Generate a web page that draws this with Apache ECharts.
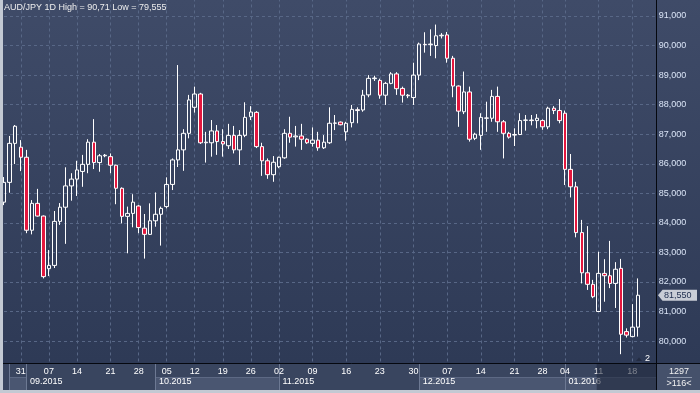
<!DOCTYPE html>
<html><head><meta charset="utf-8">
<script src="https://cdn.jsdelivr.net/npm/echarts@6/dist/echarts.min.js"></script>
<style>html,body{margin:0;padding:0;background:#2f3b56;overflow:hidden}#c{width:700px;height:393px}</style>
</head><body><div id="c"></div>
<script>
// ---------------- data ----------------
const titleText = 'AUD/JPY 1D High = 90,71 Low = 79,555';
const dates = ['2015-08-26','2015-08-27','2015-08-28','2015-08-31','2015-09-01','2015-09-02','2015-09-03','2015-09-04','2015-09-07','2015-09-08','2015-09-09','2015-09-10','2015-09-11','2015-09-14','2015-09-15','2015-09-16','2015-09-17','2015-09-18','2015-09-20','2015-09-21','2015-09-22','2015-09-23','2015-09-24','2015-09-25','2015-09-28','2015-09-29','2015-09-30','2015-10-01','2015-10-02','2015-10-05','2015-10-06','2015-10-07','2015-10-08','2015-10-09','2015-10-12','2015-10-13','2015-10-14','2015-10-15','2015-10-16','2015-10-19','2015-10-20','2015-10-21','2015-10-22','2015-10-23','2015-10-26','2015-10-27','2015-10-28','2015-10-29','2015-10-30','2015-11-02','2015-11-03','2015-11-04','2015-11-05','2015-11-06','2015-11-08','2015-11-09','2015-11-10','2015-11-11','2015-11-12','2015-11-13','2015-11-15','2015-11-16','2015-11-17','2015-11-18','2015-11-19','2015-11-20','2015-11-22','2015-11-23','2015-11-24','2015-11-25','2015-11-26','2015-11-27','2015-11-29','2015-11-30','2015-12-01','2015-12-02','2015-12-03','2015-12-04','2015-12-06','2015-12-07','2015-12-08','2015-12-09','2015-12-10','2015-12-11','2015-12-13','2015-12-14','2015-12-15','2015-12-16','2015-12-17','2015-12-18','2015-12-20','2015-12-21','2015-12-22','2015-12-23','2015-12-24','2015-12-27','2015-12-28','2015-12-29','2015-12-30','2015-12-31','2016-01-04','2016-01-05','2016-01-06','2016-01-07','2016-01-08','2016-01-10','2016-01-11','2016-01-12','2016-01-13','2016-01-14','2016-01-15','2016-01-17','2016-01-18','2016-01-19'];
const opens = [84.70,85.37,86.69,86.56,86.22,83.75,84.66,84.23,82.45,82.56,
84.05,84.53,85.25,85.48,85.74,85.98,86.73,86.04,86.27,86.24,
85.95,85.17,84.22,84.32,84.57,83.82,83.61,84.07,84.29,84.55,
85.30,86.13,86.47,87.03,87.91,88.36,86.71,86.71,87.11,86.75,
86.61,86.96,86.47,86.96,87.59,87.74,86.58,86.10,85.63,85.90,
86.20,87.03,86.91,86.94,86.83,86.69,86.80,86.54,86.71,87.37,
87.41,87.08,87.39,87.83,87.82,88.33,88.88,88.82,88.32,88.72,
89.04,88.55,88.32,88.24,89.00,90.04,90.03,90.00,90.33,90.36,
89.57,88.63,87.76,88.43,86.86,86.96,87.54,87.54,88.28,87.42,
87.03,86.97,86.99,87.47,87.48,87.46,87.46,87.25,87.88,87.80,
87.71,85.81,85.22,83.67,82.31,81.92,81.00,82.29,82.21,81.95,
82.46,80.32,80.15,80.47];
const closes = [85.37,86.69,87.27,86.22,83.75,84.66,84.23,82.18,82.56,84.05,
84.53,85.25,85.48,85.79,85.98,86.73,86.04,86.27,86.29,85.95,
85.17,84.22,84.32,84.70,83.84,83.61,84.07,84.29,84.49,85.30,
86.13,86.47,87.03,88.16,88.36,86.71,86.73,87.11,86.75,86.67,
86.96,86.47,86.96,87.57,87.75,86.58,86.10,85.63,86.05,86.22,
87.03,86.90,86.94,86.83,86.71,86.80,86.54,86.73,87.37,87.38,
87.32,87.37,87.84,87.80,88.32,88.89,88.90,88.32,88.72,89.04,
88.54,88.32,88.30,89.00,90.05,90.03,90.05,90.33,90.35,89.57,
88.63,87.78,88.43,86.83,87.00,87.57,87.55,88.28,87.42,87.03,
86.90,86.99,87.46,87.48,87.46,87.54,87.25,87.88,87.80,87.46,
85.81,85.22,83.67,82.31,81.92,81.50,82.29,82.21,81.95,82.43,
80.23,80.20,80.47,81.55];
const lows = [84.60,85.02,85.99,85.75,83.65,83.61,84.21,82.12,82.20,82.47,
83.93,83.29,84.75,84.91,85.22,85.68,85.82,85.73,86.22,85.68,
84.63,83.98,82.97,83.85,83.65,82.79,83.59,83.87,83.23,84.49,
85.11,85.89,85.76,86.86,87.73,86.67,86.04,86.24,86.30,86.24,
86.50,86.35,85.96,86.90,87.48,86.53,85.59,85.49,85.39,85.85,
86.17,86.71,86.58,86.47,86.67,86.58,86.44,86.50,86.67,87.14,
87.30,86.78,87.23,87.37,87.76,88.25,88.80,88.20,87.99,88.69,
88.33,88.07,88.22,87.99,88.83,89.76,89.65,89.57,90.24,89.42,
88.25,87.25,87.68,86.75,86.80,86.47,87.08,87.42,87.08,86.18,
86.85,86.60,86.97,87.12,87.30,87.20,87.15,87.17,87.68,87.37,
85.28,84.86,83.51,81.95,81.73,81.45,81.00,81.33,81.79,81.12,
79.555,80.12,80.13,80.15];
const highs = [85.55,86.94,87.31,86.80,86.47,84.77,85.15,84.25,83.08,84.40,
84.67,85.88,85.68,86.10,86.30,86.83,87.51,86.33,86.33,86.35,
85.97,85.20,84.55,84.97,84.60,84.30,84.66,85.03,84.55,85.54,
86.18,89.34,87.17,88.33,88.61,88.40,87.08,87.48,87.31,87.17,
87.35,87.28,87.14,88.08,87.95,87.78,86.71,86.18,86.26,86.24,
87.17,87.59,87.28,87.35,86.86,87.23,87.08,86.97,87.91,87.65,
87.43,87.42,87.99,87.91,88.50,89.00,88.98,88.88,88.77,89.10,
89.10,88.61,88.36,89.42,90.10,90.45,90.55,90.71,90.42,90.46,
89.65,88.65,89.12,88.61,87.05,87.71,88.10,88.50,88.61,87.48,
87.08,87.20,87.71,87.65,87.65,87.68,87.50,87.93,87.95,88.19,
87.80,86.33,85.39,84.10,83.89,82.07,83.02,82.77,83.39,82.67,
82.78,80.43,81.25,82.12];
const tickDates = ['2015-08-31','2015-09-07','2015-09-14','2015-09-21','2015-09-28','2015-10-05','2015-10-12','2015-10-19','2015-10-26','2015-11-02','2015-11-09','2015-11-16','2015-11-23','2015-11-30','2015-12-07','2015-12-14','2015-12-21','2015-12-28','2016-01-04','2016-01-11','2016-01-18'];
const monthStarts = ['2015-08-27','2015-09-01','2015-10-01','2015-11-02','2015-12-01','2016-01-04'];
const monthLabels = ['','09.2015','10.2015','11.2015','12.2015','01.2016'];
const infoTop = '1297';
const infoBottom = '>116<';
const pageMarker = '2';

// ---------------- layout / style ----------------
const FONT = "'Liberation Sans', Arial, sans-serif";
const STEP = 5.61;
const cats = dates.concat(['p1','p2','p3']);
const plotW = (cats.length - 1) * STEP;
const monthLight = [true,false,true,false,true,true];
const fmt = v => v.toFixed(3).replace('.', ',');
const candleData = opens.map((o,i) => [o, closes[i], lows[i], highs[i]]);
const gridColor = '#586786';

const chart = echarts.init(document.getElementById('c'), null, {renderer:'canvas', width:700, height:393});
chart.setOption({
  animation: false,
  backgroundColor: {type:'linear', x:0, y:0, x2:0, y2:1, colorStops:[
    {offset:0, color:'#3f4b68'}, {offset:0.92, color:'#2e3a56'}, {offset:1, color:'#2c3752'}]},
  title: {text: titleText, left: 4, top: 3, padding: 0,
    textStyle: {color:'#eeeeee', fontSize:9, fontWeight:'normal', fontFamily:FONT}},
  grid: [
    {left:4, top:-13.55, width:plotW, height:384.15, outerBoundsMode:'none', containLabel:false},
    {left:4, top:350, width:plotW, height:14, outerBoundsMode:'none', containLabel:false},
    {left:4, top:360, width:plotW, height:15, outerBoundsMode:'none', containLabel:false}
  ],
  xAxis: [
    {type:'category', gridIndex:0, data:cats, boundaryGap:false,
     axisLine:{show:false}, axisTick:{show:false}, axisLabel:{show:false},
     splitLine:{show:true, interval:(i,v)=>tickDates.includes(v), lineStyle:{color:gridColor, type:[3,3], width:1}}},
    {type:'category', gridIndex:1, data:cats, boundaryGap:false, position:'bottom', z:10,
     axisLine:{show:false},
     axisTick:{show:true, interval:(i,v)=>monthStarts.includes(v), length:26, lineStyle:{color:'#6d7993', width:1}},
     axisLabel:{interval:(i,v)=>tickDates.includes(v), formatter:v=>v.slice(8), color:'#ffffff', fontSize:9, fontFamily:FONT, margin:3},
     splitLine:{show:false}},
    {type:'category', gridIndex:2, data:cats, boundaryGap:false, position:'bottom', z:10,
     axisLine:{show:false}, axisTick:{show:false},
     axisLabel:{interval:(i,v)=>monthStarts.includes(v), formatter:v=>monthLabels[monthStarts.indexOf(v)] || '',
       align:'left', padding:[0,0,0,3.5], color:'#ffffff', fontSize:9, fontFamily:FONT, margin:2},
     splitLine:{show:false}}
  ],
  yAxis: [
    {type:'value', gridIndex:0, position:'right', min:79, max:92, interval:1,
     axisLine:{show:false}, axisTick:{show:false},
     axisLabel:{formatter:fmt, color:'#dbe5f7', fontSize:9, fontFamily:FONT, margin:4},
     splitLine:{show:true, lineStyle:{color:gridColor, type:[3,3], width:1}}},
    {type:'value', gridIndex:1, show:false},
    {type:'value', gridIndex:2, show:false}
  ],
  series: [{
    type:'candlestick', xAxisIndex:0, yAxisIndex:0, data:candleData, barWidth:4,
    itemStyle:{color:'rgba(0,0,0,0)', color0:'#e3173e', borderColor:'#ffffff', borderColor0:'#ffffff', borderWidth:1}
  }]
});

// ---------------- decorations placed through the axes ----------------
const xAt = i => chart.convertToPixel({xAxisIndex:1}, i);
const lastClose = closes[closes.length-1];
const yTag = chart.convertToPixel({yAxisIndex:0}, lastClose);
const T = (x,y,text,fill,align,z) => ({type:'text', x:x, y:y, z:z, silent:true,
  style:{text:text, fill:fill, font:'9px ' + FONT, align:align, verticalAlign:'middle', textAlign:align, textVerticalAlign:'middle'}});
const g = [];
g.push({type:'rect', z:5, silent:true, shape:{x:3, y:364, width:654, height:26}, style:{fill:'#39455f'}});
monthStarts.forEach((d,k) => {
  if (!monthLight[k]) return;
  const x1 = xAt(dates.indexOf(d));
  const x2 = k < monthStarts.length-1 ? xAt(dates.indexOf(monthStarts[k+1])) : 656;
  g.push({type:'rect', z:6, silent:true, shape:{x:x1, y:377.5, width:x2-x1, height:12.5}, style:{fill:'#4a5671'}});
  g.push({type:'line', z:6, silent:true, shape:{x1:x1, y1:377.5, x2:x2, y2:377.5}, style:{stroke:'#5d6984', lineWidth:1}});
});
g.push({type:'rect', z:5, silent:true, shape:{x:657, y:364, width:43, height:26}, style:{fill:'#45516b'}});
g.push(T(679, 371.5, infoTop, '#f2f2f2', 'center', 31));
g.push(T(679, 384, infoBottom, '#f2f2f2', 'center', 31));
g.push({type:'line', z:31, silent:true, shape:{x1:667, y1:377.5, x2:692, y2:377.5}, style:{stroke:'#8f99ad', lineWidth:1}});
g.push({type:'rect', z:20, silent:true, shape:{x:596.7, y:364, width:59.8, height:26}, style:{fill:'rgba(30,38,58,0.58)'}});
// frame
g.push({type:'line', z:40, silent:true, shape:{x1:656.5, y1:0, x2:656.5, y2:390}, style:{stroke:'#05080f', lineWidth:1}});
g.push({type:'line', z:40, silent:true, shape:{x1:3, y1:363.5, x2:700, y2:363.5}, style:{stroke:'#05080f', lineWidth:1}});
g.push({type:'rect', z:41, silent:true, shape:{x:0, y:390, width:700, height:3}, style:{fill:'#c3c9d3'}});
g.push({type:'rect', z:41, silent:true, shape:{x:0, y:0, width:3, height:393}, style:{fill:'#c3c9d3'}});
// last price tag
g.push({type:'polygon', z:35, silent:true, shape:{points:[[658,yTag],[662.5,yTag-5.5],[697,yTag-5.5],[697,yTag+5.5],[662.5,yTag+5.5]]}, style:{fill:'#c9cdd6'}});
g.push(T(664, yTag, fmt(lastClose), '#1d2c4d', 'left', 36));
// page marker
g.push({type:'polygon', z:35, silent:true, shape:{points:[[636,361],[639,357.5],[642,361]]}, style:{fill:'#232c42'}});
g.push(T(645, 358.5, pageMarker, '#ffffff', 'left', 35));
chart.setOption({graphic: g});
</script>
</body></html>
